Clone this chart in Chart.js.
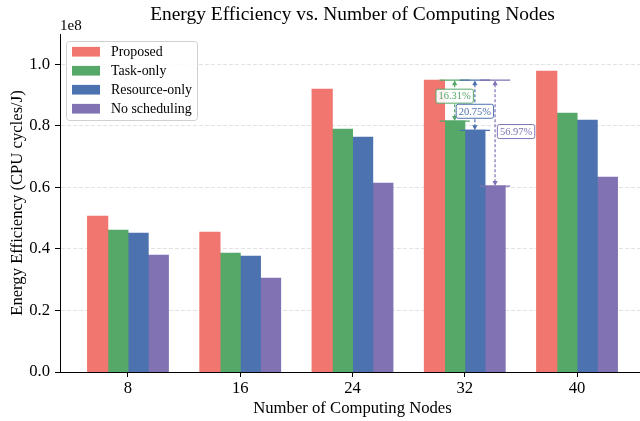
<!DOCTYPE html>
<html>
<head>
<meta charset="utf-8">
<title>Energy Efficiency vs. Number of Computing Nodes</title>
<script src="https://cdn.jsdelivr.net/npm/chart.js@4/dist/chart.umd.min.js"></script>
<style>
  html, body { margin: 0; padding: 0; background: #fff; overflow: hidden; width: 640px; height: 421px; }
  canvas { display: block; }
</style>
</head>
<body>
<canvas id="chart" width="645" height="421" style="width:645px;height:421px"></canvas>
<script>
// Number of computing nodes (x categories)
const nodeCounts = ['8', '16', '24', '32', '40'];

// Energy efficiency in CPU cycles per joule
const proposed     = [0.5060e8, 0.4540e8, 0.9187e8, 0.94800e8, 0.9773e8];
const taskOnly     = [0.4605e8, 0.3856e8, 0.7888e8, 0.81507e8, 0.8408e8];
const resourceOnly = [0.4508e8, 0.3759e8, 0.7628e8, 0.78509e8, 0.8181e8];
const noScheduling = [0.3794e8, 0.3045e8, 0.6133e8, 0.60394e8, 0.6328e8];

const seriesNames = ['Proposed', 'Task-only', 'Resource-only', 'No scheduling'];
const yTickValues = [0, 0.2e8, 0.4e8, 0.6e8, 0.8e8, 1.0e8];

// Group whose gains over the baselines are annotated
const gainIndex = 3;

const seriesColors = ['#F0766F', '#55A868', '#4C72B0', '#8172B3'];
const serif = 'Liberation Serif, Times New Roman, serif';
const seriesValues = [proposed, taskOnly, resourceOnly, noScheduling];

// label offsets (px) from the midpoint of each gain arrow
const gainLabelShift = [null, [0, -4.5], [0, 6], [21, -1.6]];

function roundRect(ctx, x, y, w, h, r) {
  ctx.beginPath();
  ctx.moveTo(x + r, y);
  ctx.lineTo(x + w - r, y);
  ctx.arcTo(x + w, y, x + w, y + r, r);
  ctx.lineTo(x + w, y + h - r);
  ctx.arcTo(x + w, y + h, x + w - r, y + h, r);
  ctx.lineTo(x + r, y + h);
  ctx.arcTo(x, y + h, x, y + h - r, r);
  ctx.lineTo(x, y + r);
  ctx.arcTo(x, y, x + r, y, r);
  ctx.closePath();
}

const overlay = {
  id: 'overlay',
  afterDatasetsDraw(chart) {
    const ctx = chart.ctx;
    const area = chart.chartArea;
    const base = chart.getDatasetMeta(0).data[gainIndex];
    const baseVal = proposed[gainIndex];

    // relative-gain markers between Proposed and each baseline
    for (let k = 1; k < 4; k++) {
      const bar = chart.getDatasetMeta(k).data[gainIndex];
      const color = seriesColors[k];
      const x = bar.x, yTop = base.y, yBot = bar.y;
      const half = bar.width * 0.75;
      ctx.save();
      ctx.strokeStyle = color;
      ctx.fillStyle = color;
      ctx.lineWidth = 1.2;
      ctx.beginPath();
      ctx.moveTo(x - half, yTop); ctx.lineTo(x + half, yTop);
      ctx.moveTo(x - half, yBot); ctx.lineTo(x + half, yBot);
      ctx.stroke();
      ctx.setLineDash([3, 2]);
      ctx.beginPath();
      ctx.moveTo(x, yTop + 4); ctx.lineTo(x, yBot - 4);
      ctx.stroke();
      ctx.setLineDash([]);
      ctx.beginPath();
      ctx.moveTo(x, yTop); ctx.lineTo(x - 2.6, yTop + 5); ctx.lineTo(x + 2.6, yTop + 5); ctx.closePath();
      ctx.moveTo(x, yBot); ctx.lineTo(x - 2.6, yBot - 5); ctx.lineTo(x + 2.6, yBot - 5); ctx.closePath();
      ctx.fill();

      const pct = ((baseVal / seriesValues[k][gainIndex] - 1) * 100).toFixed(2) + '%';
      ctx.font = '10.5px ' + serif;
      const tw = ctx.measureText(pct).width;
      const cx = x + gainLabelShift[k][0];
      const cy = (yTop + yBot) / 2 + gainLabelShift[k][1];
      const bw = tw + 5, bh = 14;
      roundRect(ctx, cx - bw / 2, cy - bh / 2, bw, bh, 2);
      ctx.fillStyle = 'rgba(255,255,255,0.9)';
      ctx.fill();
      ctx.lineWidth = 1;
      ctx.strokeStyle = color;
      ctx.stroke();
      ctx.fillStyle = color;
      ctx.textAlign = 'center';
      ctx.textBaseline = 'middle';
      ctx.fillText(pct, cx, cy + 0.5);
      ctx.restore();
    }

    // legend in the upper-left corner of the plot
    ctx.save();
    ctx.font = '13.9px ' + serif;
    let maxW = 0;
    seriesNames.forEach(n => { maxW = Math.max(maxW, ctx.measureText(n).width); });
    const lx = area.left + 6.5, ly = area.top + 7.5;
    const lw = 44.5 + maxW + 5.5, lh = 79;
    roundRect(ctx, lx, ly, lw, lh, 3);
    ctx.fillStyle = 'rgba(255,255,255,0.85)';
    ctx.fill();
    ctx.strokeStyle = '#d0d0d0';
    ctx.lineWidth = 1;
    ctx.stroke();
    ctx.textAlign = 'left';
    ctx.textBaseline = 'middle';
    seriesNames.forEach((n, i) => {
      const ry = ly + 10.2 + i * 19;
      ctx.fillStyle = seriesColors[i];
      ctx.fillRect(lx + 5.5, ry - 4.85, 28, 9.7);
      ctx.fillStyle = '#000';
      ctx.fillText(n, lx + 44.5, ry + 0.5);
    });

    // scale multiplier above the y axis
    ctx.font = '15px ' + serif;
    ctx.textBaseline = 'alphabetic';
    ctx.fillText('1e8', area.left, area.top - 4);
    ctx.restore();
  }
};

const datasets = seriesNames.map((name, i) => ({
  label: name,
  data: seriesValues[i].map((v, j) => ({ x: j, y: v })),
  backgroundColor: seriesColors[i],
  borderWidth: 0,
  inflateAmount: 0.5,
  categoryPercentage: 0.72,
  barPercentage: 1.0
}));

const tickFont = { family: serif, size: 16.67 };

new Chart(document.getElementById('chart'), {
  type: 'bar',
  data: { datasets },
  plugins: [overlay],
  options: {
    responsive: false,
    animation: false,
    devicePixelRatio: 1,
    events: [],
    layout: { padding: 0 },
    plugins: {
      legend: { display: false },
      tooltip: { enabled: false },
      title: {
        display: true,
        fullSize: false,
        text: 'Energy Efficiency vs. Number of Computing Nodes',
        color: '#000',
        font: { family: serif, size: 19.44, weight: 'normal' },
        padding: { top: 3, bottom: 7.7 }
      }
    },
    scales: {
      x: {
        type: 'linear',
        min: -0.6055,
        max: 4.6055,
        offset: false,
        grid: { offset: false, drawOnChartArea: false, drawTicks: true, tickLength: 5, tickColor: '#000', tickWidth: 1 },
        border: { color: '#000', width: 1 },
        afterBuildTicks: s => { s.ticks = nodeCounts.map((_, i) => ({ value: i })); },
        afterFit: s => { s.height = 49; },
        ticks: {
          autoSkip: false, maxRotation: 0, color: '#000', font: tickFont, padding: 2,
          callback: v => nodeCounts[v] ?? ''
        },
        title: {
          display: true, text: 'Number of Computing Nodes', color: '#000',
          font: { family: serif, size: 16.67 }, padding: { top: 0, bottom: 2.6 }
        }
      },
      y: {
        min: 0,
        max: 1.098e8,
        grid: { color: '#e2e2e2', lineWidth: 1, drawTicks: true, tickLength: 5, tickColor: '#000', tickWidth: 1 },
        border: { color: '#000', width: 1, dash: [4, 2] },
        afterBuildTicks: s => { s.ticks = yTickValues.map(v => ({ value: v })); },
        afterFit: s => { s.width = 60; },
        ticks: {
          color: '#000', font: tickFont, padding: 5,
          callback: v => (v / 1e8).toFixed(1)
        },
        title: {
          display: true, text: 'Energy Efficiency (CPU cycles/J)', color: '#000',
          font: { family: serif, size: 16.67 }, padding: { top: 8, bottom: 0 }
        }
      }
    }
  }
});
</script>
</body>
</html>
